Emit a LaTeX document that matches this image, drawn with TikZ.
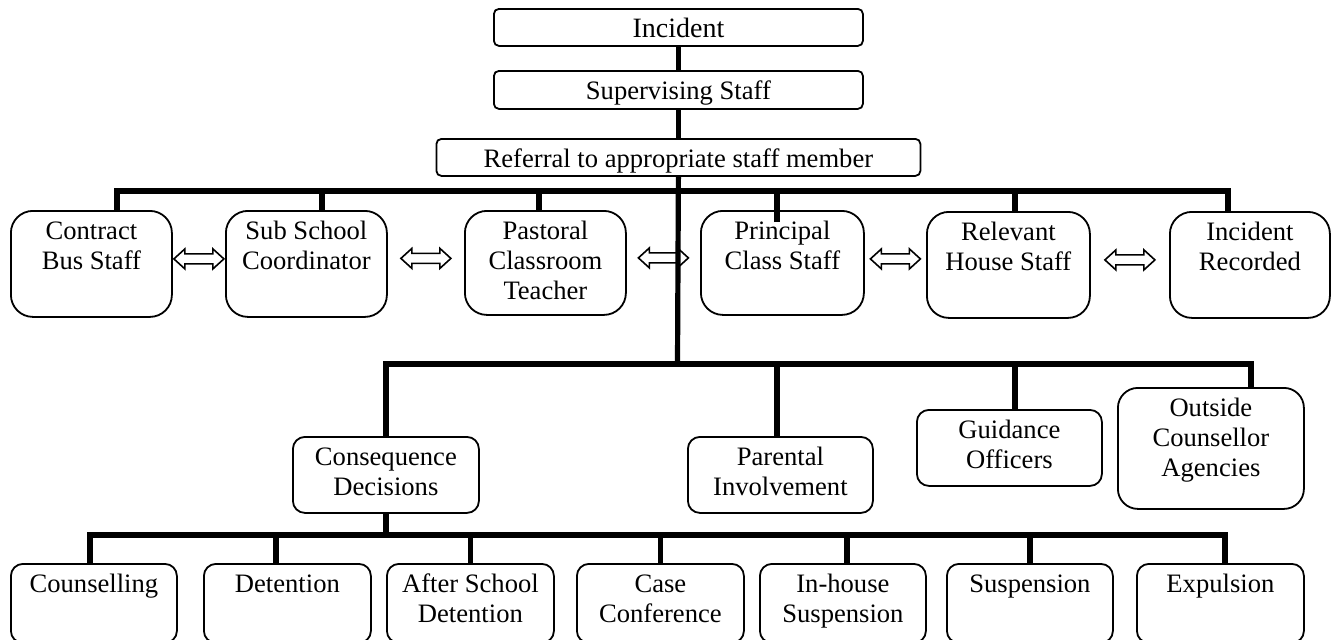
\documentclass[tikz,border=0pt]{standalone}
\usepackage{fontspec}
\setmainfont{Liberation Serif}
\usetikzlibrary{calc,positioning}

% text set at the top of a box of fixed size
\newcommand{\boxtext}[3]{\parbox[t][#2][t]{#1}{\centering\rule{0pt}{14.5pt}#3}}

\tikzset{
    box/.style={draw, line width=0.9pt, inner sep=0pt, anchor=north west, font=\fontsize{13.3}{15}\selectfont},
    topbox/.style={box, rounded corners=2.5pt},
    staffbox/.style={box, rounded corners=11pt},
    midbox/.style={box, rounded corners=6pt},
    conn/.style={line width=2.6pt},
    dblarrow/.pic={
        \draw[line width=0.8pt] (-25,0) -- (-14,-10) -- (-14,-5) -- (14,-5) -- (14,-10) -- (25,0)
            -- (14,10) -- (14,5) -- (-14,5) -- (-14,10) -- cycle;
    }
}

\begin{document}
\begin{tikzpicture}[x=0.5pt, y=-0.5pt]
    \useasboundingbox (0,0) rectangle (1338,639);
    \clip (0,0) rectangle (1338,639);

    % Top of the chain
    \node[topbox, font=\fontsize{14}{15}\selectfont] (inc) at (493,8) {\boxtext{184.5pt}{18.5pt}{Incident}};
    \node[topbox] (sup) at (493,70) {\boxtext{184.5pt}{19pt}{Supervising Staff}};
    \node[topbox] (ref) at (435.5,138) {\boxtext{242pt}{18.5pt}{Referral to appropriate staff member}};
    \draw[conn] (inc) -- (sup);
    \draw[conn] (sup) -- (ref);

    \coordinate (hub1) at (677.5,191);
    \coordinate (hub2) at (677.5,364);
    \coordinate (hub3) at (385,535);
    \draw[conn] (ref.south) -- (hub2);

    % Staff members
    \node[staffbox] (cbs) at (10,210) {\boxtext{80.5pt}{53pt}{Contract\\Bus Staff}};
    \node[staffbox] (ssc) at (225,210) {\boxtext{80.5pt}{53pt}{Sub School\\Coordinator}};
    \node[staffbox] (pct) at (464,210) {\boxtext{80.5pt}{52pt}{Pastoral\\Classroom\\Teacher}};
    \node[staffbox] (pcs) at (700,210) {\boxtext{81.5pt}{52pt}{Principal\\Class Staff}};
    \node[staffbox] (rhs) at (926,211) {\boxtext{81.5pt}{53pt}{Relevant\\House Staff}};
    \node[staffbox] (irec) at (1169,211) {\boxtext{80pt}{53pt}{Incident\\Recorded}};

    \draw[conn] ([xshift=12.75pt]cbs.north) |- (hub1);
    \draw[conn] ([xshift=7.75pt]ssc.north) |- (hub1);
    \draw[conn] ([xshift=-3.25pt]pct.north) |- (hub1);
    \draw[conn] ([xshift=-2.75pt,yshift=-6pt]pcs.north) |- (hub1);
    \draw[conn] ([xshift=3.25pt]rhs.north) |- (hub1);
    \draw[conn] ([xshift=-11pt]irec.north) |- (hub1);

    \foreach \l/\r [count=\i] in {cbs/ssc, ssc/pct, pct/pcs, pcs/rhs, rhs/irec}
        \pic (arr\i) at ($(\l.east)!0.5!(\r.west)+(0,-5)$) {dblarrow};

    % Follow up
    \node[midbox] (cd) at (292,436) {\boxtext{93pt}{38pt}{Consequence\\Decisions}};
    \node[midbox] (pi) at (687,436) {\boxtext{92.5pt}{38pt}{Parental\\Involvement}};
    \node[midbox] (go) at (916,409) {\boxtext{92.5pt}{38pt}{Guidance\\Officers}};
    \node[box, rounded corners=10pt] (oca) at (1117,387) {\boxtext{93pt}{60.5pt}{Outside\\Counsellor\\Agencies}};

    \draw[conn] (cd.north) |- (hub2);
    \draw[conn] ([xshift=-1.75pt]pi.north) |- (hub2);
    \draw[conn] ([xshift=2.75pt]go.north) |- (hub2);
    \draw[conn] ([xshift=20pt]oca.north) |- (hub2);

    % Consequences
    \draw[conn] (cd.south) -- (cd.south |- hub3);
    \foreach \nm/\x/\w/\dx/\txt in {
        cou/10/83pt/-2pt/Counselling,
        det/203/83.5pt/-5.75pt/Detention,
        asd/386/83.5pt/0pt/After School\\Detention,
        cc/576/83.5pt/0pt/Case\\Conference,
        ihs/759/83pt/2pt/In-house\\Suspension,
        sus/946/83pt/0pt/Suspension,
        exp/1136/83.5pt/2.25pt/Expulsion
    } {
        \node[midbox] (\nm) at (\x,563) {\boxtext{\w}{39.5pt}{\txt}};
        \draw[conn] ([xshift=\dx]\nm.north) |- (hub3);
    }
\end{tikzpicture}
\end{document}
